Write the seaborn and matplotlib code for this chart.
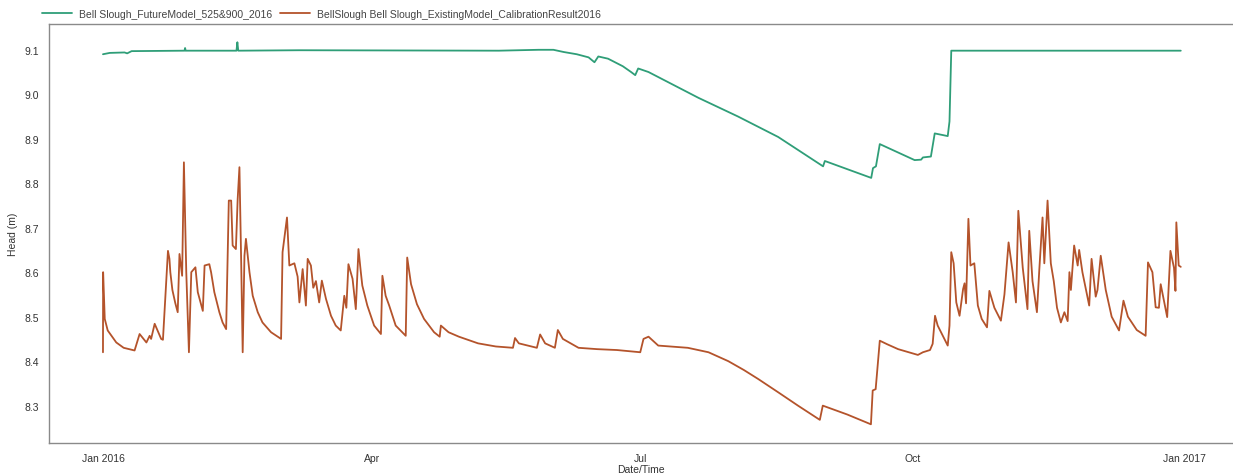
import pandas as pd
import matplotlib
matplotlib.use("Agg")
import matplotlib.pyplot as plt
import seaborn as sns

# series values (days since 2016-01-01, head in m)
future_label = "Bell Slough_FutureModel_525&900_2016"
future_days = [0.0, 2.3, 7.3, 8.2, 9.7, 27.6, 27.8, 28.0, 45.2, 45.5, 45.8, 66.4,
               134.0, 147.5, 152.5, 156.0, 160.4, 164.4, 166.4, 167.7, 171.0,
               176.0, 178.8, 180.2, 181.2, 184.7, 201.6, 215.0, 228.6, 243.8, 244.4,
               260.1, 260.7, 261.7, 263.0, 274.8, 277.0, 277.6, 280.3, 281.6,
               286.0, 286.6, 287.2, 364.9]
future_head = [9.090, 9.093, 9.094, 9.092, 9.097, 9.098, 9.104, 9.098, 9.098, 9.117,
               9.098, 9.099, 9.098, 9.100, 9.100, 9.095, 9.090, 9.083, 9.072, 9.085,
               9.080, 9.063, 9.050, 9.043, 9.058, 9.050, 8.992, 8.950, 8.904, 8.838,
               8.850, 8.812, 8.834, 8.838, 8.888, 8.852, 8.853, 8.858, 8.860, 8.912,
               8.906, 8.939, 9.098, 9.098]

existing_label = "BellSlough Bell Slough_ExistingModel_CalibrationResult2016"
existing_days = [0.0, 0.05, 0.6, 1.6, 4.5, 7.0, 10.7, 12.4, 14.7, 15.8, 16.3, 17.5,
                 19.7, 20.3, 22.0, 22.5, 22.8, 23.5, 24.5, 25.3, 25.9, 26.8, 27.4,
                 28.2, 29.1, 29.9, 31.3, 32.1, 33.8, 34.4, 36.0, 36.6, 37.7, 39.4,
                 40.5, 41.7, 42.6, 43.4, 43.9, 45.0, 45.6, 46.2, 46.8, 47.3, 47.9,
                 48.4, 49.6, 50.7, 52.4, 54.0, 56.9, 60.3, 60.8, 62.3, 63.1, 64.8,
                 65.9, 66.5, 67.6, 68.7, 69.3, 70.4, 71.2, 72.1, 73.2, 74.1, 75.5,
                 77.2, 78.8, 80.5, 81.7, 82.4, 83.1, 84.5, 85.6, 86.5, 87.3, 87.8,
                 89.5, 91.8, 94.1, 94.6, 95.7, 96.9, 99.1, 102.5, 103.0, 104.3,
                 106.3, 108.7, 112.1, 114.0, 114.4, 117.0, 120.5, 127.0, 133.0,
                 138.8, 139.5, 140.8, 146.9, 148.0, 149.7, 153.0, 154.0, 155.7,
                 161.0, 167.3, 174.0, 181.9, 183.0, 184.7, 188.0, 198.0, 205.0,
                 211.7, 217.0, 221.8, 228.6, 235.3, 242.7, 243.7, 252.0, 260.0,
                 260.6, 261.6, 263.0, 265.5, 269.2, 275.9, 277.6, 280.0, 280.9,
                 281.7, 282.6, 284.5, 286.0, 286.6, 287.2, 288.0, 288.9, 290.0,
                 291.2, 291.7, 292.2, 293.0, 293.7, 295.0, 296.2, 297.5, 299.3,
                 300.1, 301.8, 304.0, 305.2, 306.6, 308.0, 309.1, 309.9, 311.4,
                 313.0, 313.6, 314.7, 316.2, 317.0, 318.1, 318.7, 319.8, 320.9,
                 321.9, 323.0, 324.3, 325.5, 326.6, 327.2, 327.7, 328.8, 330.0,
                 330.5, 331.6, 333.9, 334.7, 336.1, 336.7, 337.8, 339.5, 341.5,
                 344.0, 345.5, 347.0, 350.0, 353.0, 353.8, 355.3, 356.4, 357.5,
                 358.1, 360.3, 361.4, 362.6, 363.1, 363.4, 364.2, 364.9]
existing_head = [8.420, 8.600, 8.495, 8.469, 8.442, 8.430, 8.424, 8.461, 8.442, 8.457,
                 8.450, 8.484, 8.450, 8.448, 8.648, 8.630, 8.600, 8.560, 8.530, 8.510,
                 8.641, 8.592, 8.847, 8.600, 8.420, 8.600, 8.611, 8.555, 8.513, 8.615,
                 8.618, 8.600, 8.555, 8.510, 8.487, 8.472, 8.761, 8.761, 8.660, 8.652,
                 8.764, 8.836, 8.620, 8.420, 8.637, 8.675, 8.600, 8.547, 8.510, 8.487,
                 8.465, 8.450, 8.645, 8.723, 8.615, 8.620, 8.590, 8.532, 8.607, 8.525,
                 8.630, 8.615, 8.565, 8.580, 8.532, 8.581, 8.540, 8.502, 8.480, 8.469,
                 8.547, 8.520, 8.618, 8.585, 8.517, 8.652, 8.600, 8.570, 8.525, 8.480,
                 8.461, 8.592, 8.547, 8.525, 8.480, 8.457, 8.633, 8.573, 8.528, 8.495,
                 8.465, 8.455, 8.480, 8.465, 8.455, 8.440, 8.433, 8.430, 8.452, 8.440,
                 8.430, 8.460, 8.440, 8.430, 8.470, 8.450, 8.430, 8.427, 8.425, 8.420,
                 8.450, 8.455, 8.435, 8.430, 8.420, 8.400, 8.380, 8.360, 8.330, 8.300,
                 8.268, 8.300, 8.280, 8.258, 8.334, 8.337, 8.446, 8.438, 8.427, 8.414,
                 8.420, 8.425, 8.439, 8.502, 8.480, 8.455, 8.435, 8.480, 8.645, 8.620,
                 8.532, 8.502, 8.562, 8.575, 8.530, 8.720, 8.615, 8.620, 8.525, 8.495,
                 8.476, 8.558, 8.520, 8.491, 8.550, 8.667, 8.600, 8.532, 8.738, 8.610,
                 8.517, 8.693, 8.580, 8.510, 8.605, 8.723, 8.620, 8.761, 8.620, 8.580,
                 8.520, 8.487, 8.510, 8.490, 8.600, 8.560, 8.660, 8.615, 8.650, 8.600,
                 8.525, 8.630, 8.545, 8.560, 8.637, 8.560, 8.500, 8.469, 8.536, 8.500,
                 8.470, 8.457, 8.622, 8.600, 8.521, 8.520, 8.573, 8.499, 8.648, 8.610,
                 8.558, 8.712, 8.615, 8.612]

tick_dates = ["2016-01-01", "2016-04-01", "2016-07-01", "2016-10-01", "2017-01-01"]
tick_labels = ["Jan 2016", "Apr", "Jul", "Oct", "Jan 2017"]
y_ticks = [8.3, 8.4, 8.5, 8.6, 8.7, 8.8, 8.9, 9.0, 9.1]

start = pd.Timestamp("2016-01-01")
future = pd.DataFrame({"date": start + pd.to_timedelta(future_days, unit="D"),
                       "head": future_head})
existing = pd.DataFrame({"date": start + pd.to_timedelta(existing_days, unit="D"),
                         "head": existing_head})

sns.set_style("white")
plt.rcParams["font.family"] = ["Liberation Sans", "DejaVu Sans"]

fig = plt.figure(figsize=(12.33, 4.77), dpi=100)
ax = fig.add_axes([0.0397, 0.0692, 0.9603, 0.8784])

green = "#2f9e78"
brown = "#b4532b"
sns.lineplot(data=future, x="date", y="head", ax=ax, color=green, lw=1.3,
             estimator=None, sort=False, label=future_label)
sns.lineplot(data=existing, x="date", y="head", ax=ax, color=brown, lw=1.3,
             estimator=None, sort=False, label=existing_label)

ax.set_xlim(pd.Timestamp("2015-12-13 17:00"), pd.Timestamp("2017-01-17 14:00"))
ax.set_ylim(8.216, 9.158)
ax.set_xticks(pd.to_datetime(tick_dates))
ax.set_xticklabels(tick_labels)
ax.set_yticks(y_ticks)
ax.set_yticklabels([f"{v:.1f}" for v in y_ticks])

ax.tick_params(axis="both", labelsize=7.5, colors="#555555", labelcolor="#333333")
ax.tick_params(axis="y", length=5, width=0.8, pad=2)
ax.tick_params(axis="x", length=4, width=0.8, pad=3)
for side in ["left", "bottom", "top"]:
    ax.spines[side].set_color("#8a8a8a")
    ax.spines[side].set_linewidth(1.0)
ax.spines["right"].set_visible(False)

ax.set_xlabel("Date/Time", fontsize=7.5, color="#333333", labelpad=1)
ax.set_ylabel("Head (m)", fontsize=7.5, color="#333333", labelpad=5)

ax.legend(loc="lower left", bbox_to_anchor=(-0.0105, 1.0), ncol=2, frameon=False,
          fontsize=7.5, handlelength=2.9, handletextpad=0.65, columnspacing=0.8,
          labelcolor="#444444", borderaxespad=0.1)

fig.savefig("out.png", dpi=100)
